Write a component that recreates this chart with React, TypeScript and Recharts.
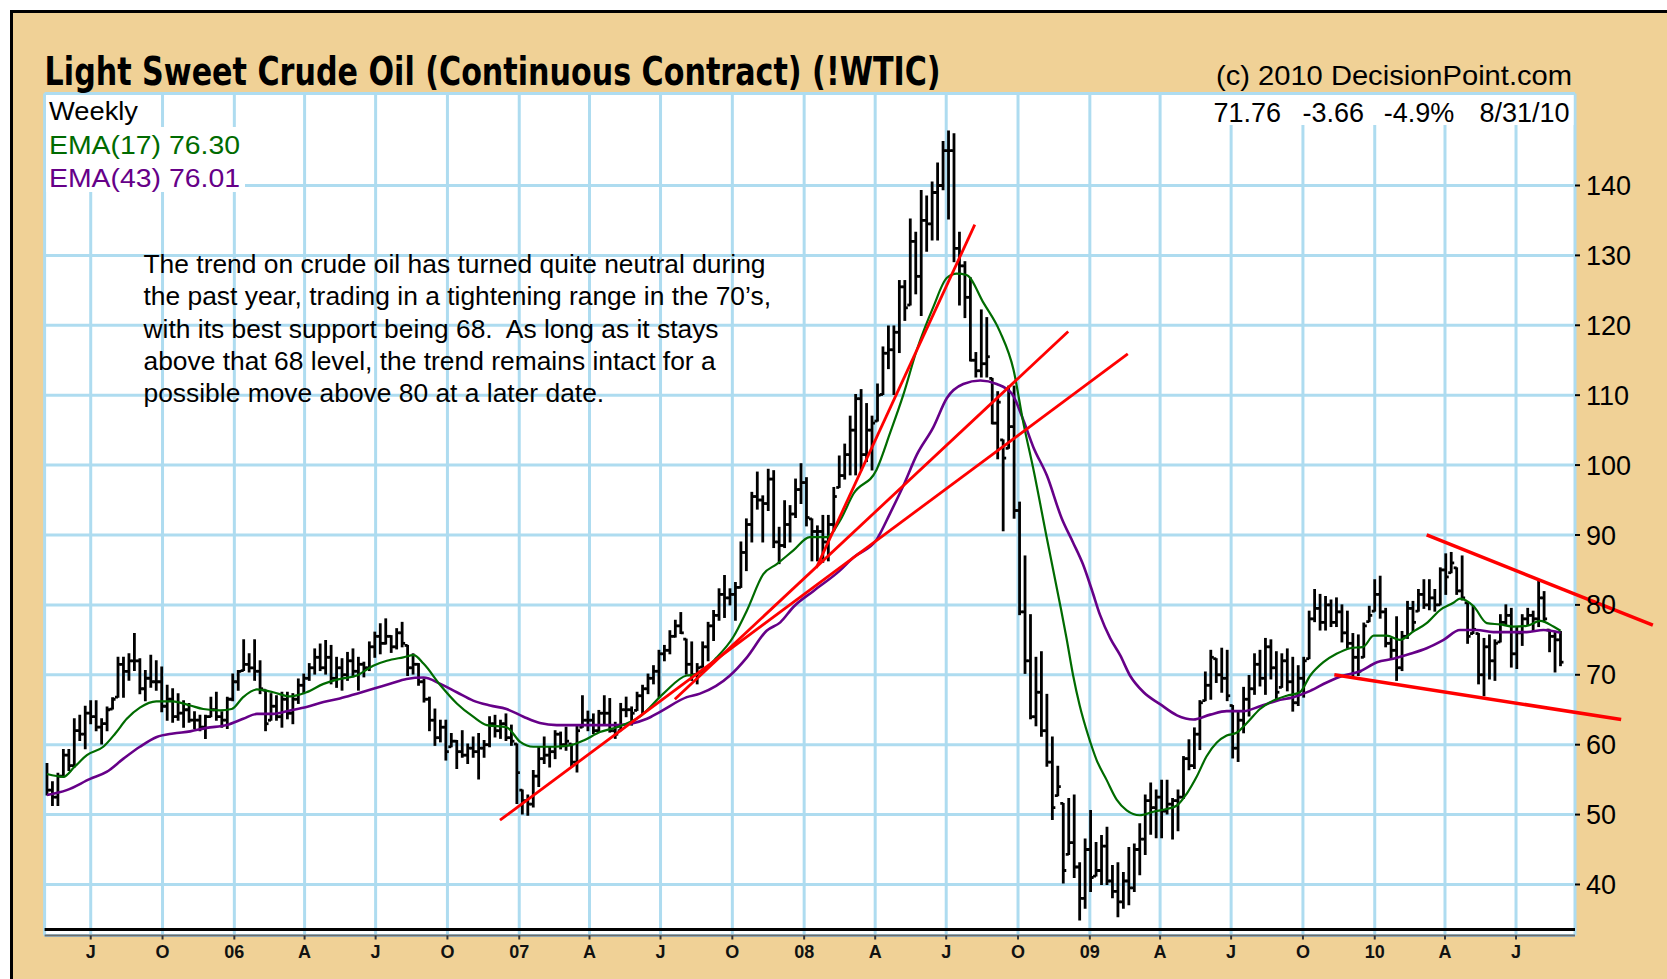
import React from 'react';
import {
  ComposedChart,
  Bar,
  Line,
  XAxis,
  YAxis,
  CartesianGrid,
  ReferenceLine,
} from 'recharts';

// weekly bars, index 0 = week ending 2005-05-06
const FIRST_BAR_DATE = '2005-05-06';

const HIGH = [
  57.3, 54.7, 55.9, 59.3, 59.3, 63.7, 64.2, 65.5, 66.3, 66.3,
  63.7, 65.4, 66.7, 72.5, 72.5, 73.0, 75.9, 72.3, 70.6, 72.8,
  72.0, 71.1, 68.5, 68.0, 67.3, 66.3, 65.9, 64.7, 64.2, 64.2,
  66.8, 67.5, 64.7, 66.8, 70.1, 70.6, 75.0, 73.0, 75.0, 72.0,
  67.8, 67.3, 67.0, 67.5, 67.5, 67.3, 69.4, 70.1, 71.6, 73.7,
  74.4, 74.9, 74.2, 72.5, 72.3, 73.2, 73.7, 72.5, 71.8, 74.7,
  76.1, 77.3, 78.0, 75.6, 76.6, 77.5, 74.2, 73.0, 71.6, 69.4,
  66.8, 65.1, 63.5, 63.5, 61.6, 60.6, 62.0, 60.1, 61.1, 61.6,
  60.6, 64.0, 64.2, 63.5, 64.4, 62.8, 60.1, 53.5, 52.8, 56.3,
  59.7, 61.1, 59.7, 62.0, 61.8, 62.5, 60.1, 62.8, 67.0, 64.8,
  64.4, 64.9, 67.0, 66.6, 63.2, 65.9, 66.8, 65.4, 67.5, 68.5,
  70.1, 71.3, 73.5, 74.2, 76.3, 77.8, 78.9, 75.1, 74.7, 71.6,
  74.7, 77.5, 79.2, 82.3, 84.2, 82.3, 83.2, 89.0, 92.3, 96.1,
  99.0, 95.6, 99.4, 99.2, 91.1, 94.9, 94.2, 98.0, 100.2, 98.2,
  92.3, 91.3, 92.8, 92.8, 96.8, 101.3, 103.0, 107.0, 110.1, 110.8,
  108.8, 107.0, 111.6, 116.9, 119.9, 119.9, 126.4, 126.4, 135.2, 133.3,
  139.3, 138.5, 140.5, 143.2, 146.3, 147.8, 147.4, 133.3, 129.1, 126.8,
  116.1, 122.2, 121.1, 112.4, 110.5, 103.6, 111.3, 111.3, 94.7, 87.0,
  78.6, 72.5, 73.3, 67.2, 61.1, 56.9, 51.6, 52.3, 52.8, 43.1,
  46.5, 50.6, 46.0, 47.0, 48.2, 42.7, 43.1, 41.7, 45.3, 45.8,
  48.7, 52.8, 54.5, 53.5, 54.9, 54.9, 52.3, 53.5, 58.3, 60.7,
  62.4, 66.3, 70.4, 73.5, 72.3, 73.8, 73.5, 65.6, 64.6, 68.2,
  69.9, 73.0, 73.5, 75.2, 75.0, 73.3, 73.0, 73.7, 72.5, 71.3,
  72.5, 79.1, 82.2, 81.5, 81.2, 80.7, 81.0, 80.0, 79.1, 75.9,
  75.7, 77.4, 79.8, 83.6, 84.1, 79.5, 75.2, 78.3, 76.2, 80.5,
  80.5, 82.2, 83.6, 83.6, 82.2, 85.3, 87.3, 87.5, 85.3, 87.0,
  80.3, 79.8, 75.9, 75.2, 75.7, 75.0, 78.6, 80.0, 79.5, 76.9,
  78.6, 79.5, 79.1, 83.4, 81.9, 76.4, 76.2, 76.2,
];

const LOW = [
  52.8, 51.3, 51.3, 55.4, 56.3, 56.8, 60.6, 59.4, 63.0, 62.0,
  60.1, 62.0, 65.1, 66.8, 66.8, 69.2, 70.6, 67.3, 66.3, 68.2,
  67.8, 64.7, 63.5, 63.2, 63.5, 62.5, 63.2, 62.3, 62.0, 60.9,
  64.0, 63.5, 62.5, 62.3, 66.3, 67.8, 70.6, 70.4, 69.2, 67.3,
  62.0, 63.5, 63.5, 62.5, 63.7, 63.0, 65.9, 67.3, 69.2, 70.1,
  70.6, 70.1, 68.7, 68.2, 67.8, 69.2, 69.7, 67.8, 69.7, 70.6,
  72.5, 73.0, 74.4, 73.2, 73.7, 74.0, 69.9, 70.1, 68.5, 66.1,
  62.0, 59.9, 60.4, 57.8, 59.7, 56.6, 58.2, 57.3, 58.2, 55.1,
  58.2, 59.7, 61.1, 60.9, 60.6, 59.9, 51.6, 50.1, 49.9, 51.1,
  54.0, 57.3, 56.8, 58.0, 59.4, 59.2, 56.8, 56.1, 62.5, 62.0,
  61.6, 61.8, 63.0, 61.8, 60.9, 62.0, 64.0, 62.8, 64.9, 64.4,
  67.3, 68.7, 66.8, 72.0, 73.0, 75.4, 75.9, 70.1, 69.2, 68.7,
  71.1, 72.0, 74.9, 77.8, 78.2, 80.0, 77.8, 82.5, 84.9, 89.0,
  93.7, 89.0, 93.5, 88.2, 85.9, 88.2, 89.0, 92.5, 94.5, 91.3,
  86.3, 86.3, 86.1, 86.3, 90.6, 96.8, 98.0, 98.6, 98.6, 99.3,
  100.5, 99.3, 106.3, 110.1, 113.8, 110.1, 116.1, 120.7, 122.9, 124.5,
  121.4, 130.6, 132.2, 132.2, 139.4, 135.2, 129.1, 122.9, 121.1, 114.9,
  112.6, 112.6, 112.6, 105.9, 100.9, 90.6, 102.4, 92.4, 78.6, 70.2,
  63.7, 62.7, 61.2, 56.9, 49.3, 52.7, 40.2, 44.3, 41.0, 34.9,
  36.6, 39.0, 41.2, 40.0, 40.0, 38.1, 35.4, 36.6, 37.1, 39.0,
  41.4, 44.3, 47.2, 46.7, 46.7, 50.1, 46.5, 47.7, 52.3, 56.4,
  56.6, 59.3, 66.3, 66.5, 68.9, 67.5, 66.3, 58.1, 57.6, 61.7,
  64.1, 67.2, 68.4, 67.2, 69.4, 66.5, 68.2, 67.7, 64.8, 65.6,
  66.8, 72.3, 77.6, 76.4, 76.4, 76.9, 76.9, 74.7, 73.8, 69.7,
  69.9, 72.5, 77.6, 79.1, 78.1, 74.0, 72.3, 69.2, 70.6, 75.2,
  76.2, 79.1, 79.5, 79.3, 79.1, 80.0, 81.5, 84.6, 81.5, 80.7,
  74.5, 75.9, 68.7, 67.0, 69.4, 69.2, 74.7, 77.1, 71.1, 70.9,
  74.2, 77.1, 76.2, 76.9, 77.6, 73.3, 70.4, 71.3,
];

const CLOSE = [
  53.5, 52.5, 55.5, 58.5, 57.0, 62.0, 61.5, 64.5, 64.0, 62.5,
  63.0, 65.0, 66.5, 71.5, 70.5, 72.0, 72.0, 68.0, 69.5, 69.0,
  69.0, 65.5, 66.5, 64.0, 64.5, 65.0, 63.5, 63.5, 62.5, 64.0,
  65.0, 64.0, 63.5, 66.5, 69.0, 70.5, 71.5, 71.0, 70.5, 68.0,
  63.0, 65.5, 64.0, 66.5, 64.5, 66.5, 68.5, 69.5, 71.0, 72.5,
  71.0, 72.5, 69.5, 71.0, 70.0, 72.0, 70.5, 71.5, 71.0, 74.0,
  75.5, 74.5, 75.5, 74.0, 76.0, 74.5, 71.0, 71.5, 69.0, 66.5,
  63.5, 61.0, 62.5, 59.0, 60.5, 59.0, 58.5, 59.5, 59.0, 59.5,
  60.0, 63.0, 62.0, 63.0, 61.0, 60.5, 56.0, 52.0, 51.5, 55.5,
  58.0, 58.5, 59.0, 61.5, 60.0, 60.5, 57.5, 62.0, 63.5, 63.5,
  62.0, 64.5, 64.5, 62.0, 61.5, 65.0, 65.0, 64.5, 67.0, 68.0,
  69.5, 70.5, 73.0, 73.5, 75.5, 77.0, 76.0, 71.5, 70.0, 71.0,
  74.0, 77.0, 78.5, 81.5, 81.0, 81.5, 82.5, 87.5, 91.5, 95.5,
  95.0, 94.5, 98.0, 89.0, 88.5, 91.5, 93.0, 96.5, 97.5, 92.5,
  90.5, 90.5, 89.0, 91.5, 95.5, 98.5, 101.5, 105.0, 109.5, 101.5,
  105.0, 106.0, 110.0, 116.0, 116.5, 119.0, 125.5, 122.5, 132.0, 127.0,
  135.0, 134.5, 139.0, 140.0, 145.0, 145.0, 131.0, 128.5, 124.0, 115.0,
  113.5, 114.5, 115.5, 106.0, 109.0, 101.0, 105.5, 93.5, 79.0, 72.0,
  64.0, 67.5, 62.0, 57.5, 51.0, 54.0, 42.0, 46.0, 42.5, 38.0,
  45.0, 41.0, 42.0, 45.5, 40.5, 39.0, 37.5, 40.5, 39.5, 45.0,
  46.5, 52.0, 51.0, 52.5, 50.5, 51.5, 52.0, 52.5, 58.0, 57.0,
  61.5, 66.0, 68.5, 72.5, 70.0, 69.5, 67.0, 59.5, 63.5, 66.5,
  68.0, 71.5, 69.5, 74.0, 71.0, 67.5, 72.0, 69.0, 66.0, 69.5,
  72.0, 78.0, 79.5, 77.5, 80.0, 77.5, 79.0, 76.0, 74.5, 72.5,
  70.5, 77.0, 78.5, 81.5, 79.0, 74.5, 73.5, 71.0, 75.5, 79.5,
  77.5, 81.5, 80.0, 81.0, 80.0, 85.0, 84.0, 86.0, 82.0, 81.0,
  75.5, 76.5, 70.0, 74.0, 72.0, 74.5, 77.5, 78.5, 73.0, 76.0,
  78.0, 78.5, 78.0, 81.0, 78.0, 75.5, 75.0, 71.8,
];

// EMA curves (week position, price)
const EMA17_AT = [
  0, 3, 5, 7.3, 10.3, 12.5, 14.6, 17, 20, 23, 26.2, 28.6, 31.7, 33.8, 35.9, 38.4,
  41.4, 44.5, 47.5, 50.6, 53.6, 56.7, 59.7, 62.2, 65.2, 67.1, 68.9, 72, 75, 78,
  80.5, 84.1, 86.6, 89, 92.7, 95.7, 98.2, 101.2, 104.3, 108.5, 112.8, 117.1,
  118.6, 122.6, 125.6, 128.1, 131.1, 133.5, 136.6, 139.6, 142.7, 145.1, 147.6,
  151.8, 154.3, 156.7, 159.2, 162.2, 164.7, 166.5, 168.3, 171.4, 174.4, 176.9,
  178.7, 180.5, 183, 185.4, 186.6, 187.8, 189, 190.6, 192.1, 193.9, 195.8,
  197.6, 200, 202.5, 204.9, 206.8, 208.6, 210.4, 212.2, 214.1, 215.9, 217.7,
  219.6, 222, 224.4, 226.9, 229.3, 231.2, 233.6, 236, 238.5, 240.9, 242.8,
  245.2, 247.6, 250.1, 252.5, 255, 257.4, 258.6, 261.1, 263.5, 265.9, 268.4,
  270.8, 273.3, 275.7, 277,
];
const EMA17 = [
  55.8, 55.4, 56.8, 58.5, 59.7, 61.6, 63.7, 65.3, 66.2, 66.2, 65.6, 65.1, 64.9, 65.1, 66.8, 67.9,
  67.5, 66.9, 67.5, 68.7, 69.4, 69.9, 71.3, 72.0, 72.5, 72.8, 71.6, 68.5, 65.9, 64.0,
  62.8, 62.5, 60.4, 59.7, 59.7, 59.9, 60.6, 61.8, 62.5, 64.0, 67.3, 69.9,
  70.0, 72.5, 75.4, 79.2, 84.4, 85.8, 87.8, 89.7, 89.7, 92.0, 95.9,
  99.3, 104.6, 110.0, 116.5, 122.6, 126.8, 127.4, 127.2, 123.2, 119.1, 113.6,
  106.0, 99.5, 89.5, 80.1, 75.2, 69.9, 65.6, 61.2, 57.8, 55.0, 52.1,
  50.6, 49.9, 50.4, 50.8, 51.3, 53.0, 55.4, 58.3, 60.3, 61.3, 61.7,
  63.1, 65.1, 66.3, 67.0, 67.5, 69.9, 71.8, 73.0, 73.8, 74.0, 75.6,
  75.6, 75.0, 76.2, 77.4, 79.3, 80.3, 80.9, 79.8, 77.4, 77.2, 76.9,
  77.0, 77.7, 76.9, 76.3,
];

const EMA43_AT = [
  0, 3.6, 7.9, 10.9, 14, 17, 20.1, 23.1, 26.2, 29.2, 32.9, 35.9, 38.4, 41.4, 44.5,
  47.5, 50.6, 53.6, 56.7, 59.7, 62.8, 65.8, 68.9, 72, 75, 78, 81.1, 84.1, 87.2,
  90.2, 93.3, 98.2, 104.3, 109.8, 112.2, 117.1, 119.5, 125, 128.1, 131.7, 134.2,
  136.6, 140.3, 145.1, 147.6, 151.8, 154.3, 156.7, 159.2, 162.2, 164.7, 167.7,
  170.8, 173.8, 176.6, 178.7, 180.5, 183, 185.7, 187.8, 189.6, 191.2, 192.7,
  194.6, 196.4, 198.2, 200.7, 203.7, 206.8, 209.8, 212.9, 215.9, 219, 222,
  225.1, 228.1, 231.2, 234.2, 237.3, 240.3, 243.4, 246.4, 249.5, 252.5, 255.6,
  258.6, 261.7, 264.7, 267.8, 270.8, 273.9, 277,
];
const EMA43 = [
  52.8, 53.5, 55.1, 56.1, 58.0, 59.7, 61.1, 61.6, 61.9, 62.4, 62.8, 63.7, 64.4, 64.4, 64.9,
  65.4, 66.1, 66.6, 67.3, 68.0, 68.7, 69.4, 69.6, 68.7, 67.5, 66.3, 65.6, 65.1, 64.0,
  63.1, 62.8, 62.8, 62.8, 63.7, 64.7, 66.8, 67.3, 69.9, 72.5, 76.3, 77.5,
  79.7, 82.0, 84.9, 86.8, 89.3, 93.1, 97.0, 101.5, 105.4, 109.6, 111.6,
  112.1, 111.6, 110.2, 106.4, 102.6, 98.5, 92.4, 88.9, 85.8, 82.2, 78.6,
  75.2, 72.8, 69.9, 67.5, 65.8, 64.2, 63.6, 64.3, 64.8, 64.8, 65.5,
  66.3, 66.8, 67.7, 68.9, 69.9, 70.5, 71.8, 72.3, 73.0, 73.8, 75.0,
  76.4, 76.4, 76.1, 76.1, 76.1, 76.4, 76.0,
];

// hand drawn trend lines: start (week, price) -> end (week, price)
const TREND_X1 = [82.9, 114.9, 140.8, 252.5, 235.6];
const TREND_Y1 = [49.2, 66.5, 85.3, 90.0, 70.0];
const TREND_X2 = [197.8, 186.9, 169.8, 293.9, 288.1];
const TREND_Y2 = [115.9, 119.1, 134.4, 77.1, 63.6];

const QUARTER_DATES = [
  '2005-07-01', '2005-10-01', '2006-01-01', '2006-04-01', '2006-07-01', '2006-10-01',
  '2007-01-01', '2007-04-01', '2007-07-01', '2007-10-01', '2008-01-01', '2008-04-01',
  '2008-07-01', '2008-10-01', '2009-01-01', '2009-04-01', '2009-07-01', '2009-10-01',
  '2010-01-01', '2010-04-01', '2010-07-01',
];
const QUARTER_LABELS = [
  'J', 'O', '06', 'A', 'J', 'O', '07', 'A', 'J', 'O', '08', 'A', 'J', 'O', '09', 'A', 'J', 'O', '10', 'A', 'J',
];

const PRICE_TICKS = [40, 50, 60, 70, 80, 90, 100, 110, 120, 130, 140];
const MINOR_TICKS = [
  34, 36, 38, 42, 44, 46, 48, 52, 54, 56, 58, 62, 64, 66, 68, 72, 74, 76, 78,
  82, 84, 86, 88, 92, 94, 96, 98, 102, 104, 106, 108, 112, 114, 116, 118,
  122, 124, 126, 128, 132, 134, 136, 138, 142, 144, 146,
];

const STATS = ['71.76', '-3.66', '-4.9%', '8/31/10'];
const NOTE_LINES = [
  'The trend on crude oil has turned quite neutral during',
  'the past year, trading in a tightening range in the 70\u2019s,',
  'with its best support being 68.  As long as it stays',
  'above that 68 level, the trend remains intact for a',
  'possible move above 80 at a later date.',
];

const W = 1667;
const H = 979;
const X_DOMAIN: [number, number] = [-0.44, 279.65];
const Y_DOMAIN: [number, number] = [32.7, 153.16];
const PANEL_SPLIT = 33.56;

const TAN = '#F0D196';
const GRID = '#AEDCF0';
const GREEN = '#006B00';
const PURPLE = '#660088';
const RED = '#FF0000';
const SANS = "'Liberation Sans', Arial, Helvetica, sans-serif";

const weekOf = (iso: string) =>
  (Date.parse(iso) - Date.parse(FIRST_BAR_DATE)) / (7 * 86400000);

// keeps tick marks but draws no label
const noLabel = () => <g />;

function OhlcShape(props: any) {
  const { x, y, width, height, payload } = props;
  if (x == null || y == null || !payload) return null;
  const cx = x + width / 2;
  const top = Math.min(y, y + height);
  const bottom = Math.max(y, y + height);
  const span = payload.high - payload.low || 1;
  const at = (v: number) => {
    const c = Math.min(payload.high, Math.max(payload.low, v));
    return top + ((payload.high - c) / span) * (bottom - top);
  };
  return (
    <g stroke="#000" strokeWidth={2.8}>
      <line x1={cx} x2={cx} y1={top - 0.5} y2={bottom + 0.5} />
      {payload.open != null && (
        <line x1={cx - 3} x2={cx} y1={at(payload.open)} y2={at(payload.open)} />
      )}
      <line x1={cx} x2={cx + 3} y1={at(payload.close)} y2={at(payload.close)} />
    </g>
  );
}

export default function App() {
  const bars = HIGH.map((h, i) => ({
    i,
    high: h,
    low: LOW[i],
    close: CLOSE[i],
    open: i > 0 ? CLOSE[i - 1] : null,
  }));
  const ema17 = EMA17_AT.map((i, k) => ({ i, v: EMA17[k] }));
  const ema43 = EMA43_AT.map((i, k) => ({ i, v: EMA43[k] }));
  const quarterTicks = QUARTER_DATES.map(weekOf);

  return (
    <div
      style={{
        position: 'absolute',
        left: 0,
        top: 0,
        width: W,
        height: H,
        background: '#fff',
        overflow: 'hidden',
        fontFamily: SANS,
      }}
    >
      {/* outer tan frame */}
      <div
        style={{
          position: 'absolute',
          left: 10,
          top: 10,
          width: W,
          height: H,
          background: TAN,
          borderTop: '3px solid #000',
          borderLeft: '3px solid #000',
        }}
      />
      <div style={{ position: 'absolute', left: 0, top: 0 }}>
        <ComposedChart
          width={W}
          height={H}
          data={bars}
          margin={{ top: 93.5, right: 12, bottom: 7.5, left: 44.6 }}
        >
          <CartesianGrid
            xAxisId="lbl"
            yAxisId="main"
            stroke={GRID}
            strokeWidth={3}
            fill="#fff"
            fillOpacity={1}
          />
          <XAxis
            xAxisId="w"
            dataKey="i"
            type="number"
            domain={X_DOMAIN}
            allowDataOverflow
            ticks={quarterTicks}
            interval={0}
            height={0}
            tick={false}
            tickLine={false}
            axisLine={false}
          />
          <XAxis
            xAxisId="lbl"
            dataKey="i"
            type="number"
            domain={X_DOMAIN}
            allowDataOverflow
            ticks={quarterTicks}
            interval={0}
            height={36}
            tickFormatter={(_v: number, idx: number) => QUARTER_LABELS[idx]}
            tick={{ fontSize: 18, fill: '#111', fontFamily: SANS, fontWeight: 700 }}
            tickSize={4}
            tickMargin={6}
            tickLine={{ stroke: '#333', strokeWidth: 2 }}
            axisLine={{ stroke: '#6d6d6d', strokeWidth: 2 }}
          />
          <XAxis
            xAxisId="top"
            orientation="top"
            type="number"
            domain={X_DOMAIN}
            allowDataOverflow
            height={0}
            tick={false}
            tickLine={false}
            axisLine={{ stroke: '#000', strokeWidth: 3 }}
          />
          <YAxis
            yAxisId="minorL"
            orientation="left"
            mirror
            width={0}
            type="number"
            domain={Y_DOMAIN}
            allowDataOverflow
            ticks={MINOR_TICKS}
            interval={0}
            tick={noLabel}
            tickSize={5}
            tickLine={{ stroke: GRID, strokeWidth: 3 }}
            axisLine={{ stroke: '#000', strokeWidth: 3 }}
          />
          <YAxis
            yAxisId="minorR"
            orientation="right"
            mirror
            width={0}
            type="number"
            domain={Y_DOMAIN}
            allowDataOverflow
            ticks={MINOR_TICKS}
            interval={0}
            tick={noLabel}
            tickSize={5}
            tickLine={{ stroke: GRID, strokeWidth: 3 }}
            axisLine={{ stroke: '#000', strokeWidth: 3 }}
          />
          <YAxis
            yAxisId="main"
            orientation="right"
            width={80}
            type="number"
            domain={Y_DOMAIN}
            allowDataOverflow
            ticks={PRICE_TICKS}
            interval={0}
            tick={{ fontSize: 27, fill: '#000', fontFamily: SANS }}
            tickSize={5}
            tickMargin={6}
            tickLine={{ stroke: '#000', strokeWidth: 2 }}
            axisLine={false}
          />

          {/* separator between price panel and date strip */}
          <ReferenceLine
            xAxisId="w"
            yAxisId="main"
            y={PANEL_SPLIT}
            stroke="#000"
            strokeWidth={3}
            ifOverflow="visible"
          />

          <Bar
            xAxisId="w"
            yAxisId="main"
            dataKey={(d: any) => [d.low, d.high]}
            barSize={6}
            shape={OhlcShape}
            isAnimationActive={false}
          />
          <Line
            xAxisId="w"
            yAxisId="main"
            data={ema43}
            dataKey="v"
            type="monotone"
            stroke={PURPLE}
            strokeWidth={2.6}
            dot={false}
            activeDot={false}
            isAnimationActive={false}
          />
          <Line
            xAxisId="w"
            yAxisId="main"
            data={ema17}
            dataKey="v"
            type="monotone"
            stroke={GREEN}
            strokeWidth={2.2}
            dot={false}
            activeDot={false}
            isAnimationActive={false}
          />

          {TREND_X1.map((x1, k) => (
            <ReferenceLine
              key={k}
              xAxisId="w"
              yAxisId="main"
              segment={[
                { x: x1, y: TREND_Y1[k] },
                { x: TREND_X2[k], y: TREND_Y2[k] },
              ]}
              stroke={RED}
              strokeWidth={k >= 3 ? 3.5 : 2.8}
              ifOverflow="visible"
            />
          ))}
        </ComposedChart>
      </div>

      {/* titles, legend and note */}
      <svg
        width={W}
        height={H}
        style={{ position: 'absolute', left: 0, top: 0, pointerEvents: 'none' }}
      >
        <text
          x={44.6}
          y={85}
          fontFamily="'Liberation Sans Narrow', 'DejaVu Sans Condensed', 'Arial Narrow', sans-serif"
          fontWeight={700}
          fontSize={39}
          textLength={896}
          lengthAdjust="spacingAndGlyphs"
          fill="#000"
        >
          Light Sweet Crude Oil (Continuous Contract) (!WTIC)
        </text>
        <text
          x={1216}
          y={85}
          fontFamily={SANS}
          fontSize={28}
          textLength={356}
          lengthAdjust="spacingAndGlyphs"
          fill="#000"
        >
          (c) 2010 DecisionPoint.com
        </text>

        <rect x={1206} y={95} width={367.5} height={30} fill="#fff" />
        {STATS.map((s, k) => (
          <text
            key={s}
            x={[1281, 1364, 1454.4, 1569.5][k]}
            y={121.5}
            textAnchor="end"
            fontFamily={SANS}
            fontSize={27}
            fill="#000"
          >
            {s}
          </text>
        ))}

        <rect x={46} y={95} width={99} height={32} fill="#fff" />
        <rect x={46} y={127} width={199} height={65} fill="#fff" />
        <text x={49} y={120} fontFamily={SANS} fontSize={26} textLength={89} lengthAdjust="spacingAndGlyphs" fill="#000">
          Weekly
        </text>
        <text x={49} y={154} fontFamily={SANS} fontSize={26} textLength={191} lengthAdjust="spacingAndGlyphs" fill={GREEN}>
          EMA(17) 76.30
        </text>
        <text x={49} y={187} fontFamily={SANS} fontSize={26} textLength={191} lengthAdjust="spacingAndGlyphs" fill={PURPLE}>
          EMA(43) 76.01
        </text>

        {NOTE_LINES.map((line, k) => (
          <text
            key={k}
            x={143.5}
            y={273.2 + k * 32.2}
            fontFamily={SANS}
            fontSize={26.4}
            fill="#000"
            style={{ whiteSpace: 'pre' }}
          >
            {line}
          </text>
        ))}
      </svg>
    </div>
  );
}
